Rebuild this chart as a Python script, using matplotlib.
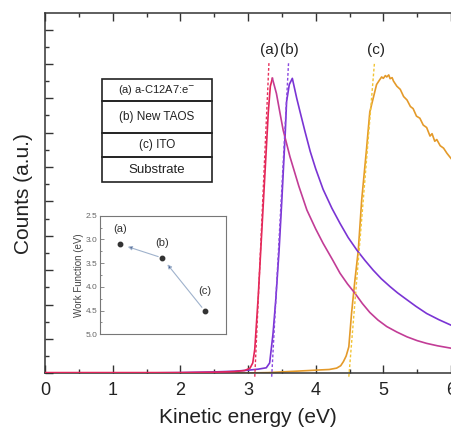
import matplotlib
matplotlib.use("Agg")
import matplotlib.pyplot as plt
from matplotlib.patches import Rectangle
from matplotlib.ticker import MultipleLocator, FormatStrFormatter

plt.rcParams['font.family'] = ['Liberation Sans', 'DejaVu Sans']

# ---- data ----
xa = [0, 0.5, 1.0, 1.5, 2.0, 2.5, 2.8, 2.95, 3.03, 3.07, 3.10, 3.15, 3.20, 3.25, 3.30, 3.33, 3.36,
      3.42, 3.47, 3.52, 3.62, 3.75, 3.87, 4.0, 4.11, 4.25, 4.36, 4.47, 4.58, 4.69, 4.80, 4.92, 5.05,
      5.20, 5.35, 5.50, 5.64, 5.80, 6.0]
ya = [0.002, 0.002, 0.002, 0.002, 0.002, 0.003, 0.005, 0.008, 0.015, 0.03, 0.07, 0.22, 0.40, 0.58, 0.76, 0.835, 0.858,
      0.814, 0.76, 0.707, 0.63, 0.545, 0.475, 0.42, 0.378, 0.33, 0.291, 0.26, 0.233, 0.203, 0.177, 0.155, 0.136,
      0.12, 0.106, 0.095, 0.087, 0.08, 0.073]

xb = [0, 1.0, 2.0, 2.5, 2.8, 3.0, 3.15, 3.27, 3.32, 3.37, 3.41, 3.46, 3.50, 3.55, 3.57, 3.61, 3.655,
      3.72, 3.77, 3.84, 3.92, 4.0, 4.11, 4.24, 4.36, 4.48, 4.61, 4.73, 4.85, 4.97, 5.10, 5.21, 5.32,
      5.48, 5.64, 5.82, 6.0]
yb = [0.0, 0.0, 0.002, 0.004, 0.006, 0.009, 0.012, 0.016, 0.03, 0.116, 0.213, 0.36, 0.504, 0.698, 0.79, 0.84, 0.858,
      0.80, 0.76, 0.705, 0.645, 0.595, 0.535, 0.48, 0.436, 0.395, 0.358, 0.328, 0.30, 0.275, 0.252, 0.234, 0.218,
      0.195, 0.174, 0.156, 0.14]

xc = [0, 2.0, 3.0, 3.3, 3.6, 3.9, 4.06, 4.2, 4.31, 4.37, 4.41, 4.45, 4.49, 4.53, 4.58, 4.63, 4.68, 4.75,
      4.80, 4.85, 4.90, 4.95, 4.975, 5.0, 5.03, 5.05, 5.08, 5.10, 5.13, 5.15, 5.20, 5.25, 5.30, 5.35,
      5.40, 5.44, 5.49, 5.54, 5.59, 5.64, 5.69, 5.72, 5.76, 5.79, 5.84, 5.89, 5.94, 6.0]
yc = [0.0, 0.0, 0.001, 0.002, 0.005, 0.008, 0.0097, 0.011, 0.015, 0.022, 0.034, 0.05, 0.077, 0.174, 0.271, 0.358, 0.504, 0.649,
      0.76, 0.80, 0.84, 0.855, 0.862, 0.858, 0.866, 0.862, 0.868, 0.857, 0.86, 0.85, 0.835, 0.826, 0.805, 0.795,
      0.776, 0.77, 0.748, 0.742, 0.722, 0.715, 0.69, 0.697, 0.675, 0.68, 0.662, 0.655, 0.64, 0.625]

# onset tangent lines (x at bottom, x at top)
tan_x = {'a': [3.10, 3.31], 'b': [3.35, 3.60], 'c': [4.49, 4.87]}
tan_y = [-0.01, 0.906]
peak_labels = ['(a)', '(b)', '(c)']
peak_label_x = [3.31, 3.61, 4.89]

layers = [r'(a) a-C12A7:e$^{-}$', '(b) New TAOS', '(c) ITO', 'Substrate']

wf_x = [1, 2, 3]
wf_y = [3.10, 3.39, 4.50]
wf_labels = ['(a)', '(b)', '(c)']

# ---- figure ----
fig = plt.figure(figsize=(4.51, 4.30), dpi=100)
ax = fig.add_axes([0.0998, 0.1319, 0.9002, 0.837])

col_a_rise = '#e2245a'
col_a = '#c23c96'
col_b = '#7a34d4'
col_c = '#e49a2a'

ax.plot(xc, yc, color=col_c, lw=1.2, zorder=2)
ax.plot(xb, yb, color=col_b, lw=1.2, zorder=3)
ipk = ya.index(max(ya))
ax.plot(xa[:ipk + 1], ya[:ipk + 1], color=col_a_rise, lw=1.2, zorder=4)
ax.plot(xa[ipk:], ya[ipk:], color=col_a, lw=1.2, zorder=4)

ax.plot(tan_x['a'], tan_y, color='#e8305a', lw=1.0, ls=(0, (2, 1.5)), zorder=5, clip_on=False)
ax.plot(tan_x['b'], tan_y, color='#8a48e0', lw=1.0, ls=(0, (2, 1.5)), zorder=5, clip_on=False)
ax.plot(tan_x['c'], tan_y, color='#f2c434', lw=1.0, ls=(0, (2, 1.5)), zorder=5, clip_on=False)

for lab, lx in zip(peak_labels, peak_label_x):
    ax.text(lx, 0.94, lab, ha='center', va='center', fontsize=11, color='#222222')

ax.set_xlim(0, 6)
ax.set_ylim(0, 1.047)
ax.xaxis.set_major_locator(MultipleLocator(1))
ax.xaxis.set_minor_locator(MultipleLocator(0.5))
ax.yaxis.set_major_locator(MultipleLocator(0.1))
ax.yaxis.set_minor_locator(MultipleLocator(0.05))
ax.tick_params(which='both', direction='in', top=True, right=False, color='#333333', width=1.0)
ax.tick_params(which='major', length=5.5)
ax.tick_params(which='minor', length=3)
ax.tick_params(axis='y', labelleft=False)
ax.tick_params(axis='x', labelsize=13, labelcolor='#222222', pad=6)
for s in ['left', 'top', 'bottom']:
    ax.spines[s].set_color('#333333')
    ax.spines[s].set_linewidth(1.1)
ax.spines['right'].set_visible(False)
ax.set_xlabel('Kinetic energy (eV)', fontsize=15, color='#222222', labelpad=7)
ax.set_ylabel('Counts (a.u.)', fontsize=15, color='#222222', labelpad=5)

# layer stack
xl0, xl1 = 0.847, 2.463
row_edges = [0.856, 0.791, 0.699, 0.628, 0.557]
row_fs = [8, 8.5, 8.5, 9.5]
for i, lab in enumerate(layers):
    top, bot = row_edges[i], row_edges[i + 1]
    ax.add_patch(Rectangle((xl0, bot), xl1 - xl0, top - bot, fill=False,
                           ec='#222222', lw=1.2, zorder=6))
    ax.text((xl0 + xl1) / 2, (top + bot) / 2, lab, ha='center', va='center',
            fontsize=row_fs[i], color='#222222', zorder=7)

# inset
ins = fig.add_axes([0.2217, 0.2226, 0.2787, 0.2758])
ins.plot(wf_x, wf_y, 'o', color='#333333', ms=3.2, zorder=3)
for (x0, y0), (x1, y1) in [((wf_x[2], wf_y[2]), (wf_x[1], wf_y[1])),
                           ((wf_x[1], wf_y[1]), (wf_x[0], wf_y[0]))]:
    ins.annotate('', xy=(x1, y1), xytext=(x0, y0),
                 arrowprops=dict(arrowstyle='-|>', ec='#9fb2cc', fc='#1e2f6a',
                                 lw=0.8, shrinkA=3, shrinkB=6, mutation_scale=6))
offs = [0.22, 0.2, 0.3]
for x, y, lab, o in zip(wf_x, wf_y, wf_labels, offs):
    ins.text(x, y - o, lab, ha='center', va='bottom', fontsize=8, color='#333333')
ins.set_xlim(0.53, 3.5)
ins.set_ylim(5.0, 2.5)
ins.set_xticks([])
ins.yaxis.set_major_locator(MultipleLocator(0.5))
ins.yaxis.set_minor_locator(MultipleLocator(0.25))
ins.yaxis.set_major_formatter(FormatStrFormatter('%.1f'))
ins.tick_params(axis='y', which='both', direction='in', labelsize=6, labelcolor='#666666',
                color='#777777', width=0.6, pad=2)
ins.tick_params(axis='y', which='major', length=3)
ins.tick_params(axis='y', which='minor', length=1.5)
for s in ins.spines.values():
    s.set_color('#777777')
    s.set_linewidth(0.8)
ins.set_ylabel('Work Function (eV)', fontsize=7, color='#444444', labelpad=1)

fig.savefig('out.png', dpi=100)
